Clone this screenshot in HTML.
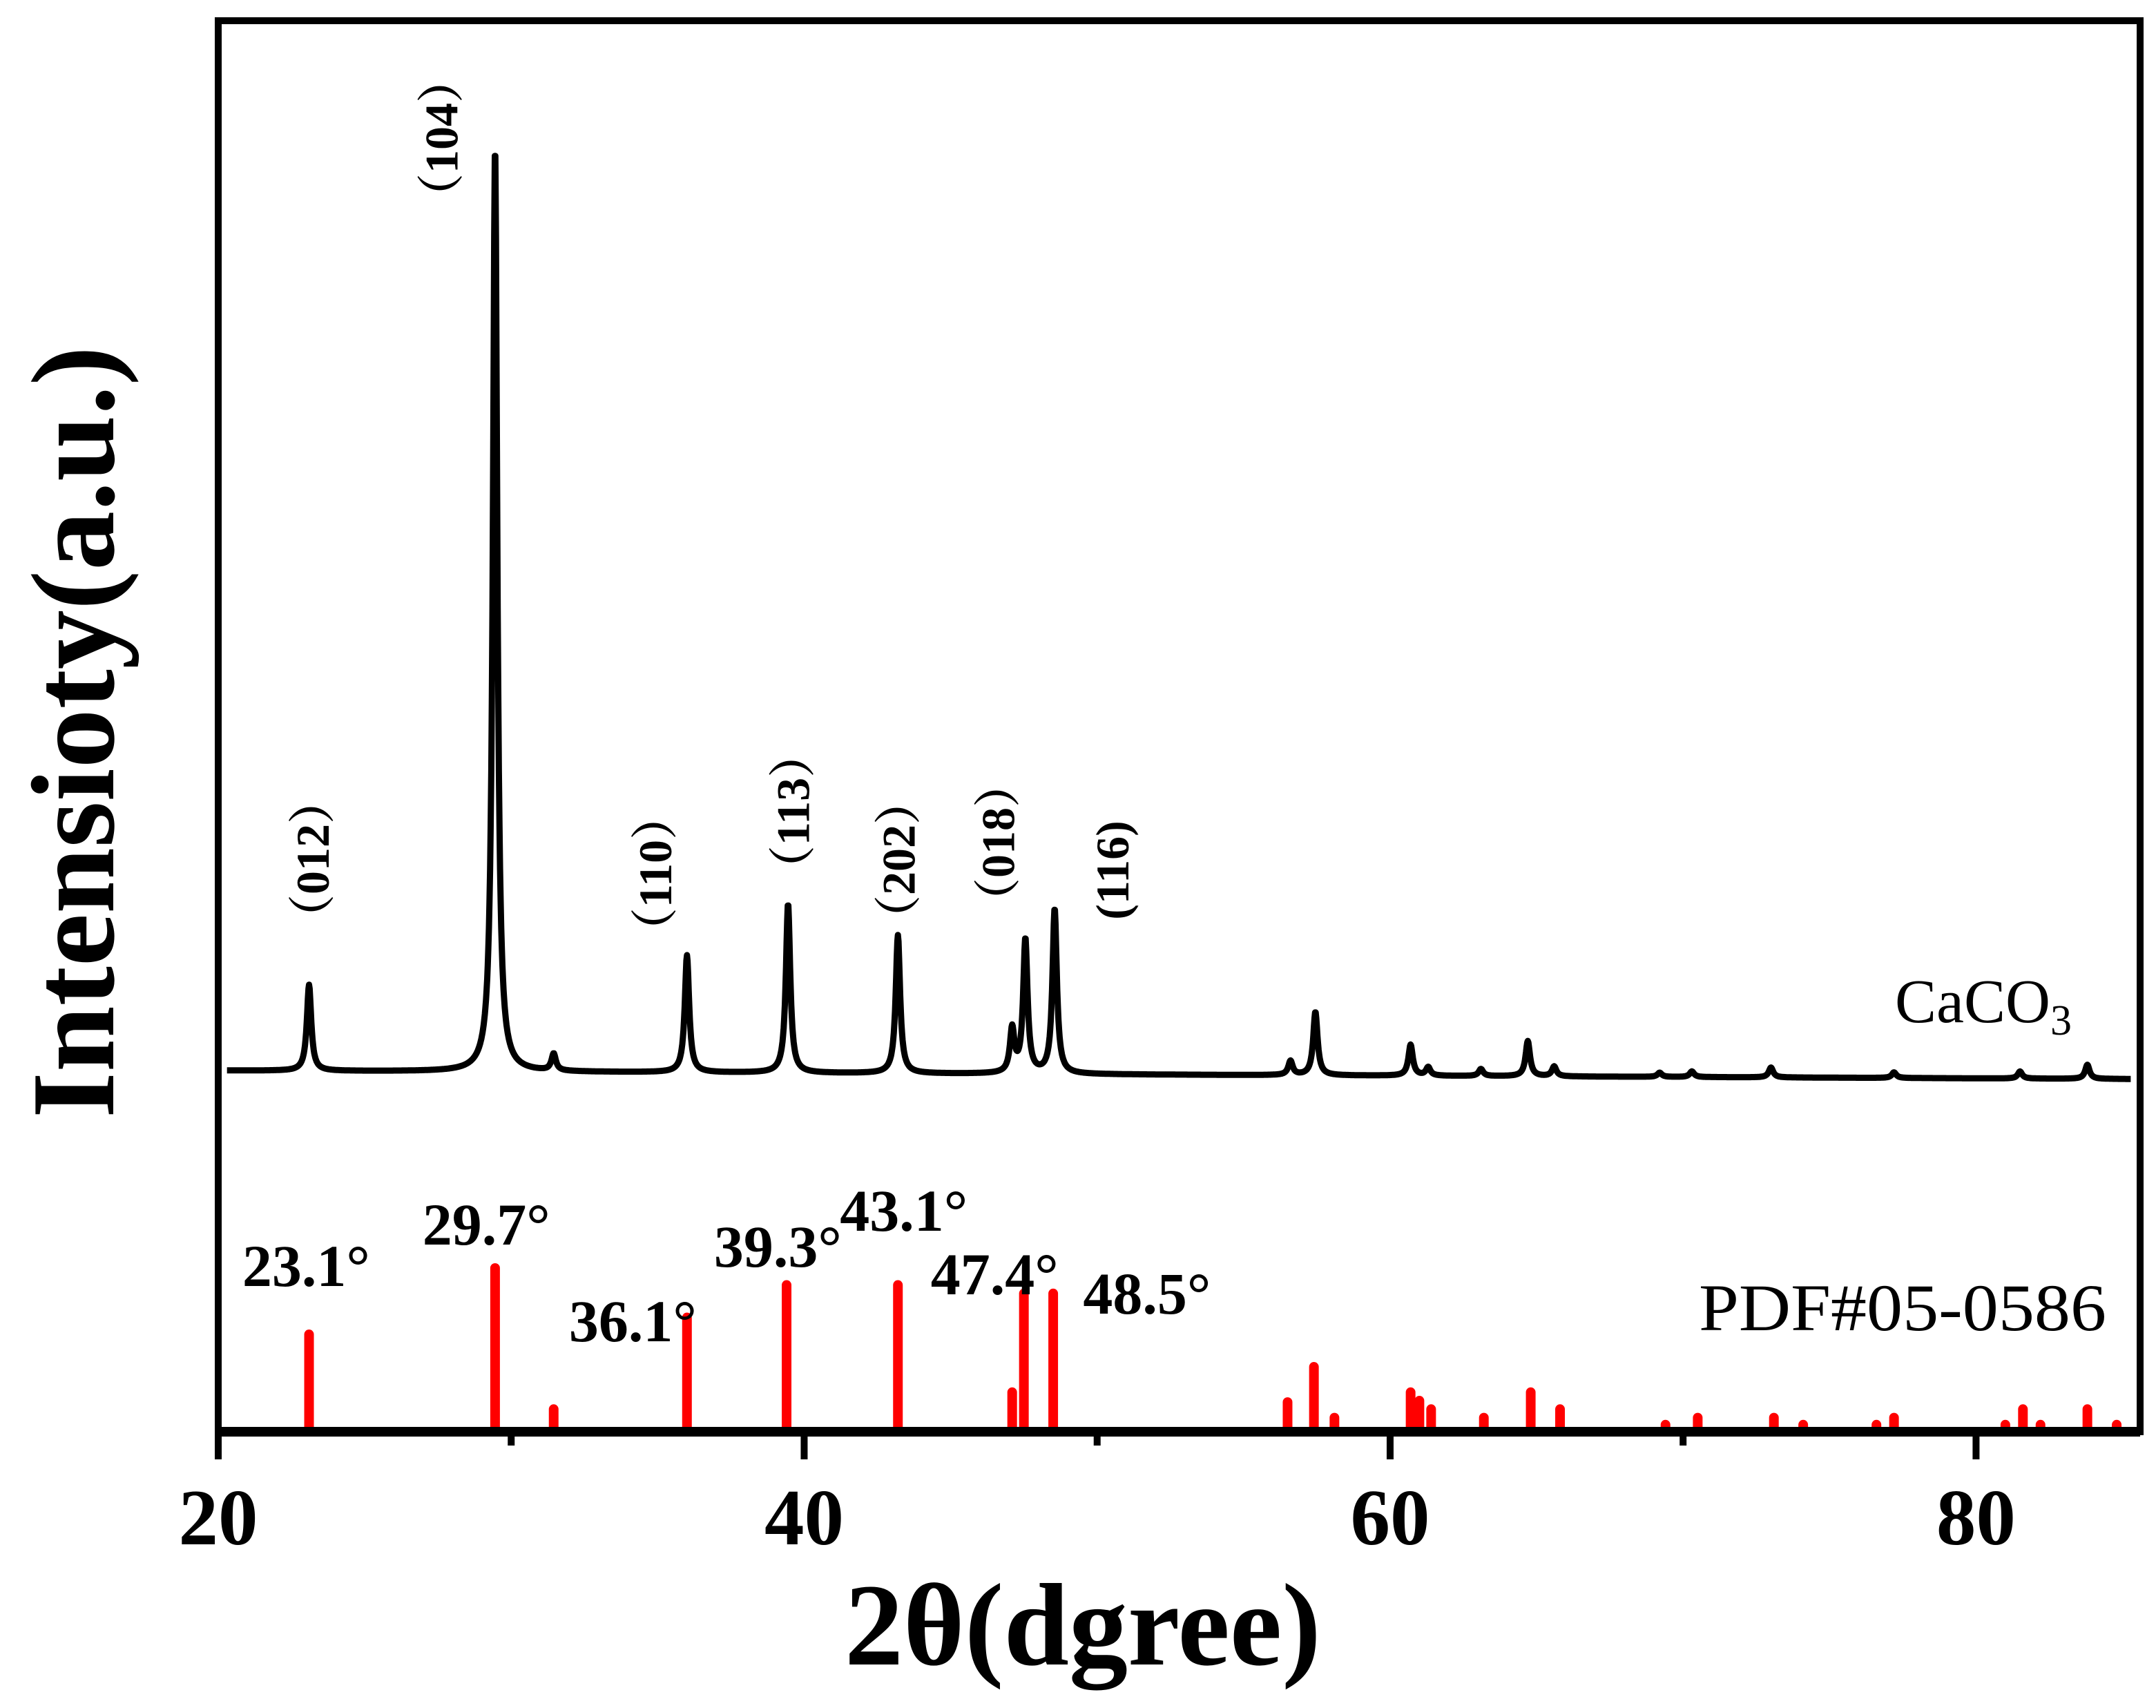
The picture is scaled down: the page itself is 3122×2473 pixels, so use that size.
<!DOCTYPE html>
<html><head><meta charset="utf-8"><style>
html,body{margin:0;padding:0;background:#fff;}
svg{display:block;}
text{font-family:"Liberation Serif","Noto Serif CJK SC",serif;}
</style></head><body>
<svg id="chart" width="3122" height="2473" viewBox="0 0 3122 2473">
<g id="marks"></g>
<rect x="316" y="30" width="2783" height="2043" fill="none" stroke="#000" stroke-width="10"/>
<line x1="316" y1="2073" x2="3099" y2="2073" stroke="#000" stroke-width="14"/>
<g id="ticks"></g>
<text x="1568" y="2410" font-size="170" font-weight="bold" text-anchor="middle">2θ(dgree)</text>
<text transform="translate(164,1060) rotate(-90)" font-size="172" font-weight="bold" text-anchor="middle">Intensioty(a.u.)</text>
<text x="2744" y="1480" font-size="90">CaCO<tspan font-size="62" dy="18">3</tspan></text>
<text x="2460" y="1926" font-size="96" textLength="590" lengthAdjust="spacingAndGlyphs">PDF#05-0586</text>
<g id="labels"></g>
</svg>
<script>
const xTicks=[20,40,60,80];
const xMinor=[30,50,70];
// measured trace peaks
const peakPos=[23.1,29.45,31.45,36.0,39.45,43.2,47.1,47.55,48.55,56.6,57.45,60.7,61.3,63.1,64.7,65.6,69.2,70.3,73.0,77.2,81.5,83.8];
const peakHt=[61,657,12,83,120,98,31,95,117,10,45,22,6,5,25,7,3,4,7,4,5,10];
const baseStart=256, baseEnd=250;
// reference sticks
const stickPos=[23.1,29.45,31.45,36.0,39.4,43.2,47.1,47.5,48.5,56.5,57.4,58.1,60.7,61.0,61.4,63.2,64.8,65.8,69.4,70.5,73.1,74.1,76.6,77.2,81.0,81.6,82.2,83.8,84.8];
const stickHt=[69,116,16,81,104,104,28,98,98,21,46,10,28,22,16,10,28,16,5,10,10,5,5,10,5,16,5,16,5];
const hklText=["（012）","（104）","（110）","（113）","（202）","（018）","(116)"];
const hklPos=[23.4,27.8,35.1,39.8,43.4,46.8,50.7];
const hklY=[1244,200,1265,1175,1245,1220,1260];
const degText=["23.1°","29.7°","36.1°","39.3°","43.1°","47.4°","48.5°"];
const degX=[23.0,29.15,34.15,39.1,43.4,46.5,51.7];
const degY=[1862,1802,1942,1834,1782,1874,1902];

const X0=316,X1=3099,XMIN=20,XMAX=85.6,Y0=2073,Y1=30,YMAX=1000;
const sx=v=>X0+(v-XMIN)/(XMAX-XMIN)*(X1-X0);
const sy=v=>Y0-v/YMAX*(Y0-Y1);
const NS="http://www.w3.org/2000/svg";
const marks=document.getElementById('marks'),ticks=document.getElementById('ticks'),labels=document.getElementById('labels');
function mk(t,a,p){const e=document.createElementNS(NS,t);for(const k in a)e.setAttribute(k,a[k]);p.appendChild(e);return e;}

let d="";
for(let x=20.3;x<=85.3;x+=0.02){
  let y=baseStart+(baseEnd-baseStart)*(x-20)/65;
  for(let i=0;i<peakPos.length;i++){const w=0.09;const dx=(x-peakPos[i])/w;y+=peakHt[i]/(1+dx*dx);}
  d+=(d?"L":"M")+sx(x).toFixed(1)+","+sy(y).toFixed(1);
}
const tr=mk('path',{d:d,fill:'none',stroke:'#000','stroke-width':9,'stroke-linejoin':'round'},marks);



stickPos.forEach((p,i)=>{
  const l=mk('line',{x1:sx(p),x2:sx(p),y1:Y0,y2:sy(stickHt[i]),stroke:'#f00','stroke-width':14,'stroke-linecap':'round'},marks);
  
  
});

xTicks.forEach(t=>{
  const l=mk('line',{x1:sx(t),x2:sx(t),y1:Y0,y2:Y0+40,stroke:'#000','stroke-width':10},ticks);
  
  
  const tx=mk('text',{x:sx(t),y:2236,'font-size':115,'font-weight':'bold','text-anchor':'middle'},ticks);
  tx.textContent=t;
  
  
});
xMinor.forEach(t=>{
  const l=mk('line',{x1:sx(t),x2:sx(t),y1:Y0,y2:Y0+20,stroke:'#000','stroke-width':10},ticks);
  
  
});
hklText.forEach((s,i)=>{
  const t=mk('text',{transform:`translate(${sx(hklPos[i])},${hklY[i]}) rotate(-90)`,'font-size':68,'font-weight':'bold','text-anchor':'middle','dominant-baseline':'middle'},labels);
  t.textContent=s;
  
  
});
degText.forEach((s,i)=>{
  const t=mk('text',{x:sx(degX[i]),y:degY[i],'font-size':86,'font-weight':'bold','text-anchor':'middle'},labels);
  t.textContent=s;
  
  
});
</script>
</body></html>
